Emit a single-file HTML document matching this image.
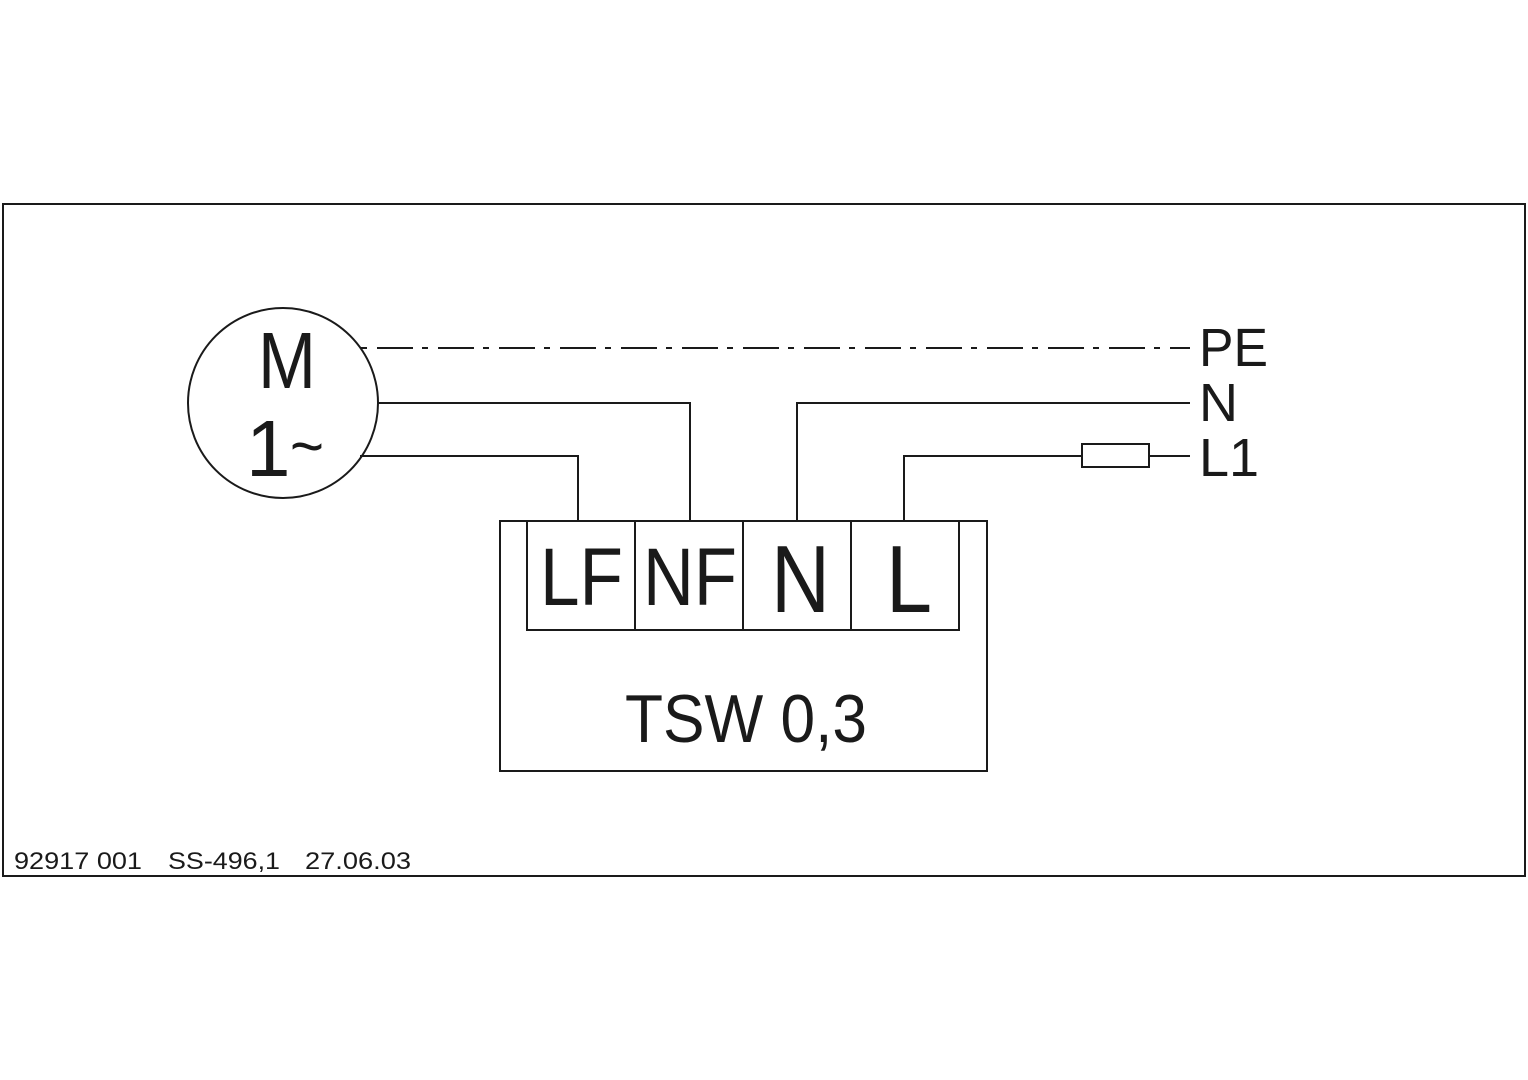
<!DOCTYPE html>
<html><head><meta charset="utf-8"><style>
html,body{margin:0;padding:0;background:#fff;}
svg{display:block}
text{font-family:"Liberation Sans",Arial,sans-serif;fill:#1a1a1a}
</style></head><body>
<svg width="1528" height="1080" viewBox="0 0 1528 1080" xmlns="http://www.w3.org/2000/svg">
<g fill="none" stroke="#1a1a1a" stroke-width="2">
<rect x="3" y="204" width="1522" height="672"/>
<circle cx="283" cy="403" r="95"/>
<line x1="361" y1="348" x2="1190" y2="348" stroke-dasharray="6 10 36 9"/>
<polyline points="378,403 690,403 690,521"/>
<polyline points="360,456 578,456 578,521"/>
<polyline points="1190,403 797,403 797,521"/>
<polyline points="1190,456 904,456 904,521"/>
<rect x="1082" y="444" width="67" height="23" fill="#fff"/>
<rect x="500" y="521" width="487" height="250"/>
<rect x="527" y="521" width="432" height="109"/>
<line x1="635" y1="521" x2="635" y2="630"/>
<line x1="743" y1="521" x2="743" y2="630"/>
<line x1="851" y1="521" x2="851" y2="630"/>
</g>
<text x="258" y="388" font-size="80" textLength="58" lengthAdjust="spacingAndGlyphs">M</text>
<text x="246" y="476" font-size="80">1</text>
<text x="290" y="468" font-size="64" textLength="34" lengthAdjust="spacingAndGlyphs">~</text>
<text x="1199" y="366" font-size="54" textLength="69" lengthAdjust="spacingAndGlyphs">PE</text>
<text x="1199" y="421" font-size="54">N</text>
<text x="1199" y="476" font-size="54">L1</text>
<text x="540" y="605" font-size="82" textLength="83" lengthAdjust="spacingAndGlyphs">LF</text>
<text x="643" y="605" font-size="82" textLength="94" lengthAdjust="spacingAndGlyphs">NF</text>
<text x="771" y="612" font-size="96" textLength="59" lengthAdjust="spacingAndGlyphs">N</text>
<text x="886" y="612" font-size="96" textLength="46" lengthAdjust="spacingAndGlyphs">L</text>
<text x="625" y="742" font-size="68" textLength="242" lengthAdjust="spacingAndGlyphs">TSW 0,3</text>
<text x="14" y="869" font-size="24" textLength="128" lengthAdjust="spacingAndGlyphs">92917 001</text>
<text x="168" y="869" font-size="24" textLength="112" lengthAdjust="spacingAndGlyphs">SS-496,1</text>
<text x="305" y="869" font-size="24" textLength="106" lengthAdjust="spacingAndGlyphs">27.06.03</text>
</svg>
</body></html>
